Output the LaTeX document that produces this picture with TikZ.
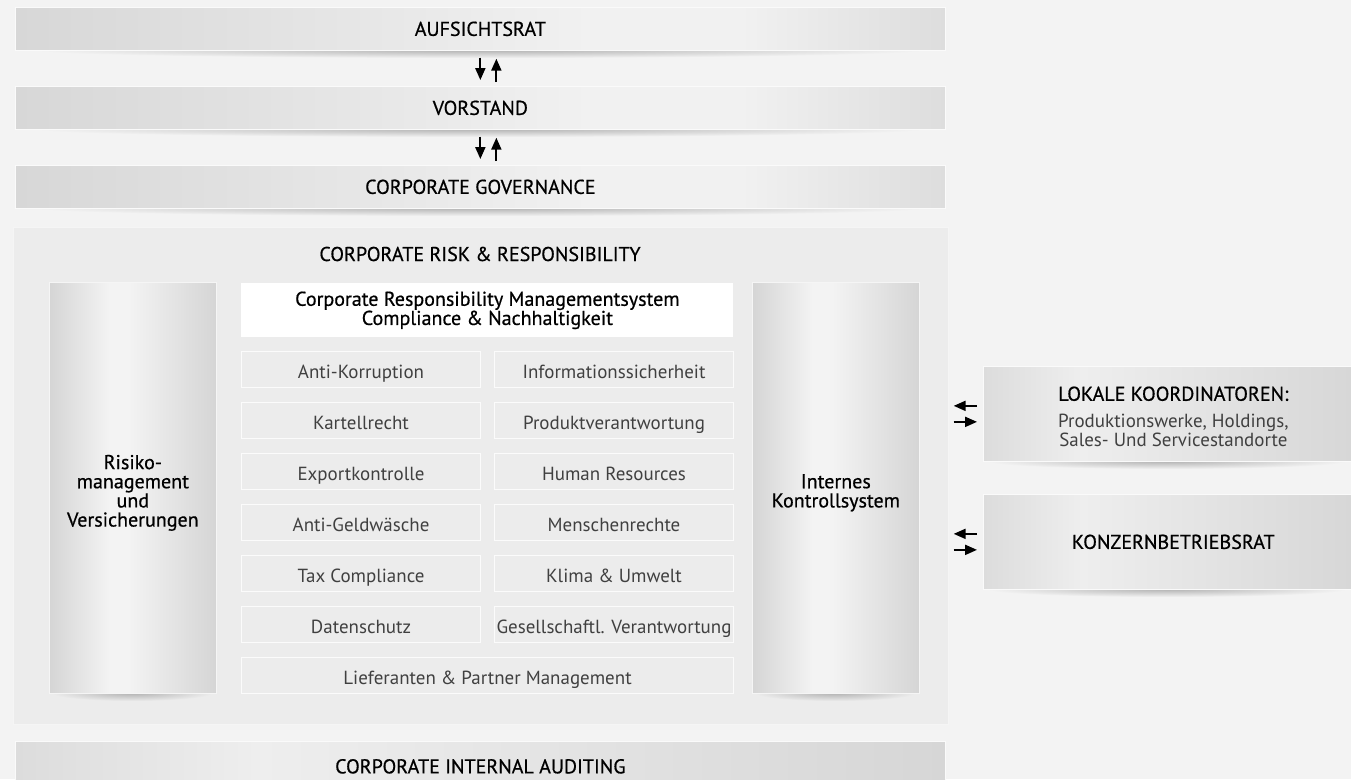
\documentclass[tikz,border=0pt]{standalone}
\usepackage{fontspec}
\setmainfont{PT Sans}
\newfontfamily\medfamily[FakeBold=0.6]{PT Sans}
\usetikzlibrary{arrows.meta,positioning}
\definecolor{bgcol}{HTML}{F3F3F3}
\definecolor{panelcol}{HTML}{ECECEC}
\definecolor{bardark}{HTML}{D7D7D7}
\definecolor{barlight}{HTML}{F1F1F1}
\definecolor{barend}{HTML}{DDDDDD}
\definecolor{coldark}{HTML}{D5D5D5}
\definecolor{collight}{HTML}{F3F3F3}
\definecolor{sidedark}{HTML}{DCDCDC}
\definecolor{sidelight}{HTML}{EEEEEE}
\definecolor{sideend}{HTML}{D6D6D6}
\definecolor{textgray}{HTML}{404040}
\newcommand{\pxu}{0.02cm}
\newcommand{\hdfont}{\medfamily\fontsize{11.4}{10.9}\selectfont}
\newcommand{\tpfont}{\fontsize{10.8}{11.2}\selectfont}
\pgfdeclarehorizontalshading{barshade}{100bp}{color(0bp)=(bardark); color(25bp)=(bardark); color(56bp)=(barlight); color(64bp)=(barlight); color(75bp)=(barend); color(100bp)=(barend)}
\pgfdeclarehorizontalshading{colshade}{100bp}{color(0bp)=(coldark); color(25bp)=(coldark); color(43bp)=(collight); color(49bp)=(collight); color(75bp)=(coldark); color(100bp)=(coldark)}
\pgfdeclarehorizontalshading{sideshade}{100bp}{color(0bp)=(sidedark); color(25bp)=(sidedark); color(38bp)=(sidelight); color(75bp)=(sideend); color(100bp)=(sideend)}
\tikzset{
  bar/.style={anchor=north west, inner sep=0pt, minimum width=930*\pxu,
    minimum height=43*\pxu, shading=barshade, draw=white!60!bgcol,
    line width=0.4pt, font=\hdfont},
  panel/.style={anchor=north west, inner sep=0pt, minimum width=935*\pxu,
    minimum height=497*\pxu, fill=panelcol, draw=white!50!panelcol},
  pillar/.style={anchor=north west, inner sep=0pt, minimum width=167*\pxu,
    minimum height=411*\pxu, shading=colshade, draw=white!50!panelcol},
  pillartext/.style={align=center, font=\hdfont, yshift=-5*\pxu},
  topic/.style={anchor=north west, inner sep=0pt, minimum width=239*\pxu,
    minimum height=36*\pxu, fill=panelcol, draw=white!80!panelcol,
    line width=0.6pt, text=textgray, font=\tpfont, text height=10.6pt, text depth=0pt},
  side/.style={anchor=north west, inner sep=0pt, minimum width=380*\pxu,
    minimum height=95*\pxu, shading=sideshade, draw=white!60!bgcol,
    align=center, font=\hdfont},
  arr/.style={-{Triangle[width=5.7pt,length=6.8pt]}, line width=1.1pt},
}
\begin{document}
\begin{tikzpicture}[x=\pxu,y=-\pxu]
  \fill[bgcol] (0,0) rectangle (1351,779);
  \useasboundingbox (0,0) rectangle (1351,779);
  % shadows
  \foreach \cx/\cy/\rx in {480/50/445, 480/129/445, 480/208/445, 1167/461/180, 1167/589/180}
    \shade[inner color=black!30, outer color=bgcol] (\cx,\cy) ellipse [x radius=\rx, y radius=8];
  % panel
  \node[panel] (crr) at (13,227) {};
  \foreach \cx in {132, 835}
    \shade[inner color=black!30, outer color=panelcol] (\cx,693) ellipse [x radius=80, y radius=8];
  % governance bars
  \node[bar] (auf) at (15,7) {AUFSICHTSRAT};
  \node[bar] (vor) at (15,86) {VORSTAND};
  \node[bar] (gov) at (15,165) {CORPORATE GOVERNANCE};
  \node[font=\hdfont] (crrt) at (480,254) {CORPORATE RISK \& RESPONSIBILITY};
  % pillars
  \node[pillar, label={[pillartext]center:Risiko-\\management\\und\\Versicherungen}] (risk) at (49,282) {};
  \node[pillar, label={[pillartext]center:Internes\\Kontrollsystem}] (iks) at (752,282) {};
  \node[anchor=north west, inner sep=0pt, minimum width=492*\pxu, minimum height=54*\pxu,
    fill=white, align=center, font=\hdfont] (crms) at (241,283)
    {Corporate Responsibility Managementsystem\\Compliance \& Nachhaltigkeit};
  % topics
  \foreach \a/\b [count=\i] in {Anti-Korruption/Informationssicherheit,
      Kartellrecht/Produktverantwortung, Exportkontrolle/Human Resources,
      Anti-Geldwäsche/Menschenrechte, Tax Compliance/Klima \& Umwelt,
      Datenschutz/Gesellschaftl. Verantwortung}{
    \node[topic] (l\i) at (241,{351+51*(\i-1)}) {\a};
    \node[topic] (r\i) at (494,{351+51*(\i-1)}) {\b};
  }
  \node[topic, minimum width=492*\pxu] (lief) at (241,657) {Lieferanten \& Partner Management};
  % side boxes
  \node[side, label={[align=center, font=\hdfont, yshift=-3*\pxu]center:LOKALE KOORDINATOREN:\\[4.5pt]
    {\rmfamily\color{textgray}\tpfont Produktionswerke, Holdings,}\\
    {\rmfamily\color{textgray}\tpfont Sales- Und Servicestandorte}}] (lok) at (983,366) {};
  \node[side] (kbr) at (983,494) {KONZERNBETRIEBSRAT};
  \node[bar, anchor=north west, minimum height=50*\pxu, shading=sideshade] (cia) at (15,741) {CORPORATE INTERNAL AUDITING};
  % arrows
  \draw[arr, shorten <=7*\pxu, shorten >=6*\pxu] (auf.south) -- (vor.north);
  \draw[arr, shorten <=4*\pxu, shorten >=8*\pxu] ([xshift=16*\pxu]vor.north) -- ([xshift=16*\pxu]auf.south);
  \draw[arr, shorten <=7*\pxu, shorten >=6*\pxu] (vor.south) -- (gov.north);
  \draw[arr, shorten <=4*\pxu, shorten >=8*\pxu] ([xshift=16*\pxu]gov.north) -- ([xshift=16*\pxu]vor.south);
  \foreach \n in {lok, kbr}{
    \draw[arr, shorten <=6*\pxu, shorten >=5*\pxu] ([yshift=8*\pxu]\n.west) -- ([yshift=8*\pxu]\n.west -| crr.east);
    \draw[arr, shorten <=5*\pxu, shorten >=6*\pxu] ([yshift=-8*\pxu]\n.west -| crr.east) -- ([yshift=-8*\pxu]\n.west);
  }
\end{tikzpicture}
\end{document}
